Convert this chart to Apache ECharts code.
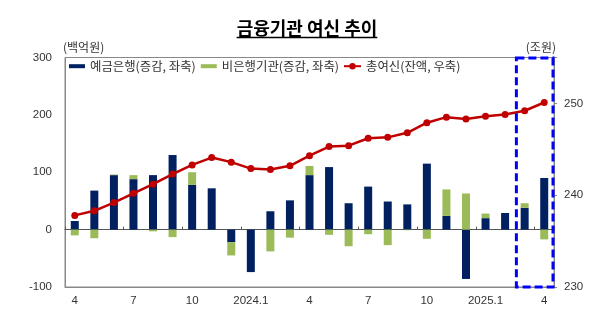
<!DOCTYPE html>
<html>
<head>
<meta charset="utf-8">
<script src="https://cdn.jsdelivr.net/npm/echarts@6/dist/echarts.min.js"></script>
<style>
html,body{margin:0;padding:0;background:#fff;}
#c{width:614px;height:322px;}
</style>
</head>
<body>
<div id="c"></div>
<script>
// ---- data ----
var categories = ['2023.4','2023.5','2023.6','2023.7','2023.8','2023.9','2023.10','2023.11','2023.12',
  '2024.1','2024.2','2024.3','2024.4','2024.5','2024.6','2024.7','2024.8','2024.9','2024.10','2024.11','2024.12',
  '2025.1','2025.2','2025.3','2025.4'];
var bankChange = [15, 68, 95, 88, 95, 130, 78, 72, -22, -74, 32, 51, 95, 109, 46, 75, 49, 44, 115, 24, -86, 20, 29, 38, 90];
var nonbankChange = [-10, -15, 1, 7, -3, -13, 22, 0, -23, 0, -38, -14, 16, -9, -29, -8, -27, -1, -16, 46, 63, 8, 0, 8, -17];
var totalLoans = [237.8, 238.3, 239.2, 240.2, 241.2, 242.3, 243.3, 244.1, 243.6, 242.9, 242.8, 243.2, 244.3, 245.3, 245.4, 246.2, 246.3, 246.8, 247.9, 248.5, 248.3, 248.6, 248.8, 249.2, 250.1];
var leftTicks = [-100, 0, 100, 200, 300];
var rightTicks = [230, 240, 250];

var seriesNames = ['예금은행(증감, 좌축)', '비은행기관(증감, 좌축)', '총여신(잔액, 우축)'];
var titleText = '금융기관 여신 추이';

var numFont = '"Liberation Sans", Arial, sans-serif';
var krFont = '"Noto Sans CJK KR", "Noto Sans", sans-serif';
var txtColor = '#333';
var axisColor = '#888';

var chart = echarts.init(document.getElementById('c'), null, {renderer: 'canvas'});

function monthLabel(v) {
  var p = v.split('.');
  return p[1] === '1' ? v : p[1];
}

var option = {
  animation: false,
  backgroundColor: '#fff',
  title: {
    text: titleText,
    left: 'center',
    top: 14,
    textStyle: {fontFamily: krFont, fontSize: 18, fontWeight: 'bold', color: '#000'}
  },
  legend: [
    {
      data: [seriesNames[0], seriesNames[1]],
      left: 69, top: 60, padding: 0,
      itemWidth: 16, itemHeight: 4, itemGap: 5,
      icon: 'rect',
      textStyle: {fontFamily: krFont, fontSize: 12.4, color: txtColor}
    },
    {
      data: [seriesNames[2]],
      left: 343, top: 60, padding: 0,
      itemWidth: 17, itemHeight: 8,
      textStyle: {fontFamily: krFont, fontSize: 12.4, color: txtColor}
    }
  ],
  grid: {
    left: 65, right: 60, top: 57.5, bottom: 35,
    show: true, borderColor: axisColor, borderWidth: 1,
    outerBoundsMode: 'none'
  },
  xAxis: [
    {
      type: 'category',
      data: categories,
      position: 'bottom',
      axisLine: {onZero: false, lineStyle: {color: axisColor}},
      axisTick: {show: false},
      axisLabel: {
        interval: function (i) { return i % 3 === 0; },
        formatter: monthLabel,
        fontFamily: numFont, fontSize: 11.5, color: txtColor, margin: 8
      }
    },
    {
      type: 'category',
      data: categories,
      position: 'bottom',
      axisLine: {onZero: true, onZeroAxisIndex: 0, lineStyle: {color: '#555'}},
      axisTick: {show: true, inside: true, length: 3, interval: function (i) { return i % 3 === 0; }, lineStyle: {color: '#555'}},
      axisLabel: {show: false}
    }
  ],
  yAxis: [
    {
      type: 'value',
      min: leftTicks[0], max: leftTicks[leftTicks.length - 1], interval: 100,
      position: 'left',
      name: '(백억원)',
      nameLocation: 'end',
      nameGap: 4,
      nameTextStyle: {fontFamily: krFont, fontSize: 12, color: txtColor, align: 'left', padding: [0, 0, 0, -2]},
      axisLine: {show: true, lineStyle: {color: axisColor}},
      axisTick: {show: false},
      splitLine: {show: false},
      axisLabel: {fontFamily: numFont, fontSize: 11.5, color: txtColor, margin: 13}
    },
    {
      type: 'value',
      min: rightTicks[0], max: 255, interval: 10,
      position: 'right',
      name: '(조원)',
      nameLocation: 'end',
      nameGap: 4,
      nameTextStyle: {fontFamily: krFont, fontSize: 12, color: txtColor, align: 'right', padding: [0, -2, 0, 0]},
      axisLine: {show: true, lineStyle: {color: axisColor}},
      axisTick: {show: true, length: 3, lineStyle: {color: axisColor}},
      splitLine: {show: false},
      axisLabel: {
        fontFamily: numFont, fontSize: 11.5, color: txtColor, margin: 10,
        formatter: function (v) { return rightTicks.indexOf(v) >= 0 ? String(v) : ''; }
      }
    }
  ],
  series: [
    {
      name: seriesNames[0],
      type: 'bar',
      stack: 'chg',
      xAxisIndex: 0, yAxisIndex: 0,
      barWidth: 8,
      itemStyle: {color: '#002060'},
      data: bankChange
    },
    {
      name: seriesNames[1],
      type: 'bar',
      stack: 'chg',
      xAxisIndex: 0, yAxisIndex: 0,
      barWidth: 8,
      itemStyle: {color: '#9BBB59'},
      data: nonbankChange
    },
    {
      name: seriesNames[2],
      type: 'line',
      xAxisIndex: 0, yAxisIndex: 1,
      symbol: 'circle',
      symbolSize: 7,
      lineStyle: {color: '#C00000', width: 2.5},
      itemStyle: {color: '#C00000'},
      z: 5,
      data: totalLoans
    }
  ]
};
chart.setOption(option);

// decorations: title underline and dashed highlight box, positioned through the chart's scales
(function () {
  var ctx = document.createElement('canvas').getContext('2d');
  ctx.font = 'bold 18px ' + krFont;
  var w = ctx.measureText(titleText).width;
  var cx = 307;
  var x22 = chart.convertToPixel({xAxisIndex: 0}, 22);
  var x23 = chart.convertToPixel({xAxisIndex: 0}, 23);
  var x24 = chart.convertToPixel({xAxisIndex: 0}, 24);
  var band = x24 - x23;
  var boxLeft = (x22 + x23) / 2 + 1.5;
  var boxRight = x24 + band / 2 - 1;
  var yTop = chart.convertToPixel({yAxisIndex: 0}, 300) + 0.5;
  var yBot = chart.convertToPixel({yAxisIndex: 0}, -100);
  chart.setOption({
    graphic: [
      {
        type: 'line',
        shape: {x1: cx - w / 2, y1: 37.5, x2: cx + w / 2, y2: 37.5},
        style: {stroke: '#000', lineWidth: 1.5}
      },
      {
        type: 'rect',
        z: 100,
        shape: {x: boxLeft, y: yTop, width: boxRight - boxLeft, height: yBot - yTop},
        style: {fill: 'none', stroke: '#0000FF', lineWidth: 3, lineDash: [8, 4]}
      }
    ]
  });
})();
</script>
</body>
</html>
